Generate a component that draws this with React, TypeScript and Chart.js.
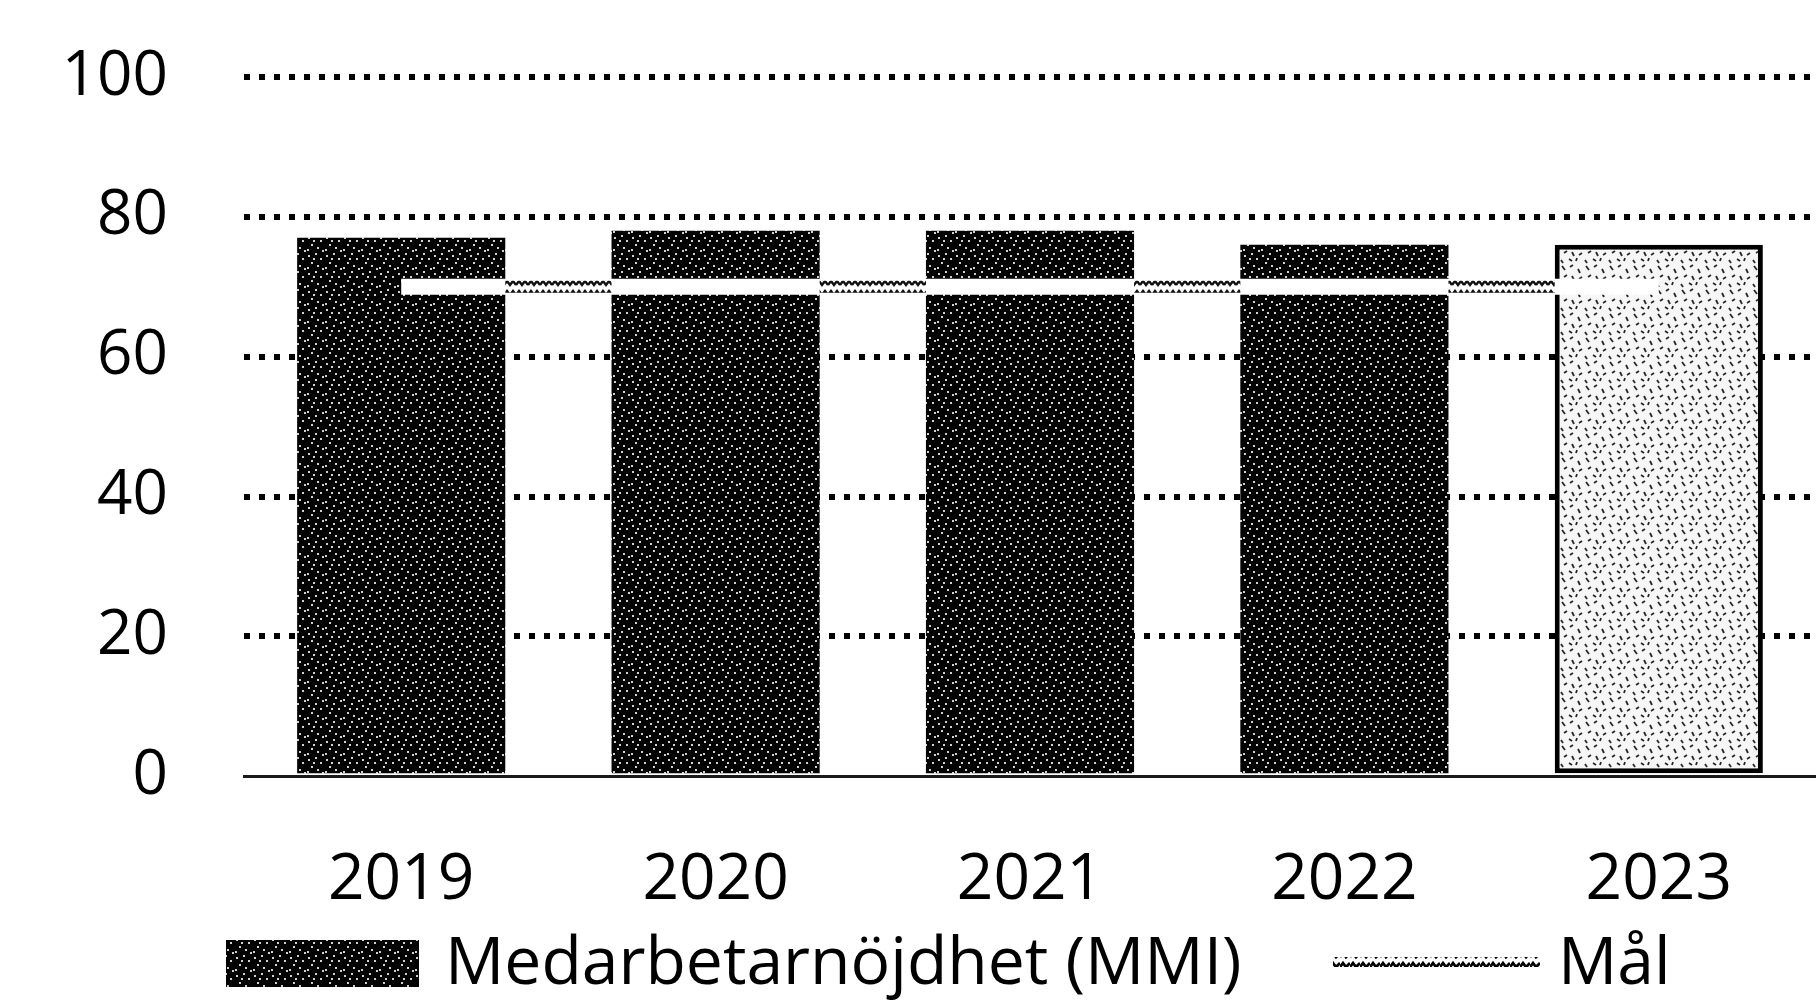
import React, { useEffect, useRef } from 'react';
import { Chart, registerables } from 'chart.js';

Chart.register(...registerables);

// ---- data ----
const years: string[] = ['2019', '2020', '2021', '2022', '2023'];
const mmiValues: number[] = [77, 78, 78, 76, 76];
const goalValues: number[] = [70, 70, 70, 70, 70];
const yTickValues: number[] = [0, 20, 40, 60, 80, 100];
const seriesLabels: string[] = ['Medarbetarnöjdhet (MMI)', 'Mål'];

const FONT = "'Open Sans', 'Noto Sans', sans-serif";

function makePattern(
  target: CanvasRenderingContext2D,
  w: number,
  h: number,
  draw: (c: CanvasRenderingContext2D) => void
): CanvasPattern | string {
  const tile = document.createElement('canvas');
  tile.width = w;
  tile.height = h;
  const c = tile.getContext('2d');
  if (!c) return '#111';
  draw(c);
  return target.createPattern(tile, 'repeat') || '#111';
}

export default function App() {
  const canvasRef = useRef<HTMLCanvasElement | null>(null);

  useEffect(() => {
    const canvas = canvasRef.current;
    if (!canvas) return;
    const ctx = canvas.getContext('2d');
    if (!ctx) return;

    // dark speckled bar texture
    const darkFill = makePattern(ctx, 18, 18, (c) => {
      c.fillStyle = '#030303';
      c.fillRect(0, 0, 18, 18);
      c.fillStyle = '#d0d0d0';
      const dots = [
        [2, 3], [9, 1], [14, 6], [5, 10], [11, 13], [1, 15], [7, 6], [16, 16],
      ];
      dots.forEach(([x, y]) => c.fillRect(x, y, 2, 2));
    });

    // light speckled bar texture (open bar)
    const lightFill = makePattern(ctx, 24, 24, (c) => {
      c.fillStyle = '#f6f6f6';
      c.fillRect(0, 0, 24, 24);
      c.strokeStyle = '#2a2a2a';
      c.lineWidth = 1.8;
      const strokes = [
        [2, 2, 5, 6], [10, 3, 13, 1], [18, 5, 20, 9], [4, 13, 7, 11],
        [12, 12, 14, 16], [19, 15, 22, 13], [1, 20, 3, 23], [9, 19, 12, 21],
        [16, 21, 17, 18],
      ];
      strokes.forEach(([x1, y1, x2, y2]) => {
        c.beginPath();
        c.moveTo(x1, y1);
        c.lineTo(x2, y2);
        c.stroke();
      });
    });

    // hatched goal line texture (visible where the line crosses white gaps)
    const hatchFill = makePattern(ctx, 12, 16, (c) => {
      c.fillStyle = '#ffffff';
      c.fillRect(0, 0, 12, 16);
      c.strokeStyle = '#111111';
      c.lineWidth = 2.4;
      [5, 11].forEach((y0) => {
        c.beginPath();
        c.moveTo(0, y0 + 2);
        c.lineTo(3, y0 - 2);
        c.lineTo(6, y0 + 2);
        c.lineTo(9, y0 - 2);
        c.lineTo(12, y0 + 2);
        c.stroke();
      });
    });

    const legendGoalFill = makePattern(ctx, 10, 10, (c) => {
      c.fillStyle = '#ffffff';
      c.fillRect(0, 0, 10, 10);
      c.strokeStyle = '#000000';
      c.lineWidth = 2.8;
      c.beginPath();
      c.moveTo(0, 7);
      c.lineTo(3, 3);
      c.lineTo(6, 7);
      c.lineTo(10, 3);
      c.stroke();
    });

    const barBg = years.map((_, i) => (i === years.length - 1 ? lightFill : darkFill));
    const barBorderW = years.map((_, i) => (i === years.length - 1 ? 5 : 0));
    const GOAL_W = 16;

    // Draw the hatch of the goal line in the white gaps between bars
    const goalHatchPlugin = {
      id: 'goalHatch',
      afterDatasetsDraw(chart: any) {
        const lineMeta = chart.getDatasetMeta(0);
        const barMeta = chart.getDatasetMeta(1);
        if (!lineMeta || !barMeta) return;
        const c: CanvasRenderingContext2D = chart.ctx;
        c.save();
        c.fillStyle = hatchFill as any;
        for (let i = 0; i < barMeta.data.length - 1; i++) {
          const b1 = barMeta.data[i];
          const b2 = barMeta.data[i + 1];
          const p1 = lineMeta.data[i];
          const p2 = lineMeta.data[i + 1];
          if (!b1 || !b2 || !p1 || !p2) continue;
          const x1 = b1.x + b1.width / 2;
          const x2 = b2.x - b2.width / 2;
          const y = (p1.y + p2.y) / 2;
          c.fillRect(x1, y - GOAL_W / 2 + 2, x2 - x1, GOAL_W - 4);
        }
        c.restore();
      },
    };

    const legendPlugin = {
      id: 'customLegend',
      afterDraw(chart: any) {
        const c: CanvasRenderingContext2D = chart.ctx;
        c.save();
        // bar item
        c.fillStyle = darkFill as any;
        c.fillRect(226, 940, 193, 47);
        c.fillStyle = '#000';
        c.font = `66px ${FONT}`;
        c.textBaseline = 'alphabetic';
        c.textAlign = 'left';
        c.fillText(seriesLabels[0], 445, 984);
        // line item
        c.fillStyle = legendGoalFill as any;
        c.fillRect(1333, 957, 207, 10);
        c.fillStyle = '#000';
        c.fillText(seriesLabels[1], 1558, 984);
        c.restore();
      },
    };

    const chart = new Chart(canvas, {
      type: 'bar',
      data: {
        labels: years,
        datasets: [
          {
            type: 'line',
            label: seriesLabels[1],
            data: goalValues,
            borderColor: '#ffffff',
            borderWidth: GOAL_W,
            borderCapStyle: 'butt',
            pointRadius: 0,
            pointHoverRadius: 0,
            fill: false,
            tension: 0,
            order: 0,
          } as any,
          {
            type: 'bar',
            label: seriesLabels[0],
            data: mmiValues,
            backgroundColor: barBg as any,
            borderColor: '#000000',
            borderWidth: barBorderW,
            borderSkipped: false,
            categoryPercentage: 1,
            barPercentage: 0.662,
            order: 1,
          } as any,
        ],
      },
      options: {
        animation: false,
        responsive: true,
        maintainAspectRatio: false,
        layout: { padding: { top: 77, bottom: 17, left: 0, right: 0 } },
        plugins: {
          legend: { display: false },
          tooltip: { enabled: false },
        },
        scales: {
          x: {
            grid: { display: false, drawTicks: false },
            border: { display: true, color: '#1a1a1a', width: 3 },
            ticks: {
              color: '#000',
              font: { family: FONT, size: 64 },
              padding: 66,
            },
          },
          y: {
            min: 0,
            max: 100,
            afterBuildTicks: (scale: any) => {
              scale.ticks = yTickValues.map((v) => ({ value: v }));
            },
            afterFit: (scale: any) => {
              scale.width = 244;
              scale.paddingTop = 0;
              scale.paddingBottom = 0;
            },
            grid: {
              drawTicks: false,
              lineWidth: 6,
              color: (context: any) =>
                context.tick && context.tick.value === 0 ? 'rgba(0,0,0,0)' : '#000000',
            },
            border: { display: false, dash: [6, 9] },
            ticks: {
              color: '#000',
              font: { family: FONT, size: 62 },
              padding: 76,
            },
          },
        },
      },
      plugins: [goalHatchPlugin, legendPlugin],
    });

    return () => {
      chart.destroy();
    };
  }, []);

  return (
    <div
      style={{
        position: 'fixed',
        left: 0,
        top: 0,
        width: '1816px',
        height: '1002px',
        background: '#ffffff',
      }}
    >
      <canvas ref={canvasRef} />
    </div>
  );
}
